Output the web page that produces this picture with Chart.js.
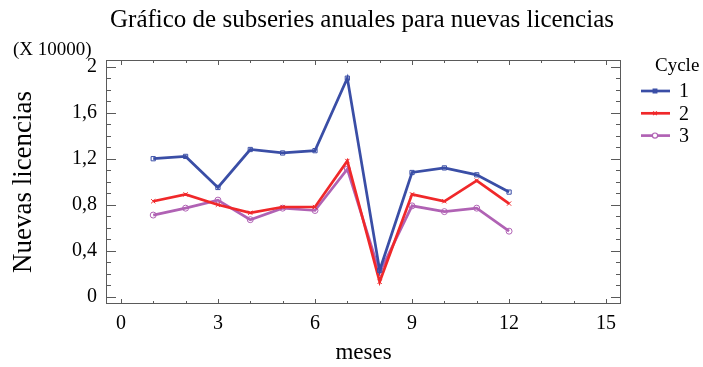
<!DOCTYPE html>
<html>
<head>
<meta charset="utf-8">
<script src="https://cdn.jsdelivr.net/npm/chart.js@4/dist/chart.umd.min.js"></script>
<style>
  html, body { margin: 0; padding: 0; background: #fff; }
  #wrap { width: 703px; height: 367px; }
</style>
</head>
<body>
<div id="wrap"><canvas id="c" width="703" height="367"></canvas></div>
<script>
// Monthly new licences (units of 10 000), one series per yearly cycle
const months = [1, 2, 3, 4, 5, 6, 7, 8, 9, 10, 11, 12];
const cycle1 = [1.20, 1.22, 0.95, 1.28, 1.25, 1.27, 1.90, 0.23, 1.08, 1.12, 1.06, 0.91];
const cycle2 = [0.83, 0.89, 0.80, 0.73, 0.78, 0.78, 1.18, 0.13, 0.89, 0.83, 1.01, 0.81];
const cycle3 = [0.71, 0.77, 0.84, 0.67, 0.77, 0.75, 1.11, 0.21, 0.79, 0.74, 0.77, 0.57];
const cycleNames = ['1', '2', '3'];
const xTicks = [0, 3, 6, 9, 12, 15];
const yTicks = [0, 0.4, 0.8, 1.2, 1.6, 2];
const chartTitle = 'Gráfico de subseries anuales para nuevas licencias';

const SERIF = "'Liberation Serif', 'Times New Roman', serif";
const FRAME = '#5a5a5a';

const toPoints = vals => vals.map((v, i) => ({ x: months[i], y: v }));

const styles = [
  { color: '#3a4ea6', point: 'rect' },
  { color: '#f0282a', point: 'crossRot' },
  { color: '#b062b4', point: 'circle' }
];

const datasets = [cycle1, cycle2, cycle3].map((vals, i) => ({
  label: cycleNames[i],
  data: toPoints(vals),
  borderColor: styles[i].color,
  backgroundColor: 'rgba(255,255,255,0)',
  borderWidth: 2.7,
  pointStyle: styles[i].point,
  pointRadius: 3,
  pointBorderWidth: 1,
  pointBorderColor: styles[i].color,
  pointBackgroundColor: 'rgba(255,255,255,0)',
  tension: 0
}));

// Frame with inward tick marks on all four sides, title, unit label and legend
const framePlugin = {
  id: 'frame',
  afterDatasetsDraw(chart) {
    const { ctx, chartArea: a, scales: { x, y } } = chart;
    ctx.save();
    ctx.strokeStyle = FRAME;
    ctx.lineWidth = 1;
    ctx.strokeRect(Math.round(a.left) + 0.5, Math.round(a.top) + 0.5,
                   Math.round(a.right - a.left) - 1, Math.round(a.bottom - a.top) - 1);
    ctx.beginPath();
    for (let v = 0; v <= 15; v++) {
      const px = Math.round(x.getPixelForValue(v)) + 0.5;
      const len = v % 3 === 0 ? 5 : 3;
      ctx.moveTo(px, a.bottom); ctx.lineTo(px, a.bottom - len);
      ctx.moveTo(px, a.top); ctx.lineTo(px, a.top + len);
    }
    for (let i = 0; i <= 20; i++) {
      const py = Math.round(y.getPixelForValue(i / 10)) + 0.5;
      const len = i % 4 === 0 ? 10 : 5;
      ctx.moveTo(a.left, py); ctx.lineTo(a.left + len, py);
      ctx.moveTo(a.right, py); ctx.lineTo(a.right - len, py);
    }
    ctx.stroke();
    ctx.restore();
  },
  afterDraw(chart) {
    const { ctx } = chart;
    ctx.save();
    ctx.fillStyle = '#000';
    ctx.textBaseline = 'middle';

    ctx.font = '25px ' + SERIF;
    ctx.textAlign = 'center';
    ctx.fillText(chartTitle, 362, 20);

    ctx.font = '19px ' + SERIF;
    ctx.textAlign = 'left';
    ctx.fillText('(X 10000)', 13, 50);

    // legend
    ctx.fillText('Cycle', 655, 66);
    chart.data.datasets.forEach((ds, i) => {
      const ly = 91 + i * 22.3;
      ctx.strokeStyle = ds.borderColor;
      ctx.lineWidth = 2.7;
      ctx.beginPath();
      ctx.moveTo(641, ly); ctx.lineTo(670, ly);
      ctx.stroke();
      ctx.lineWidth = 1.2;
      ctx.fillStyle = i === 0 ? ds.borderColor : '#ffffff';
      Chart.helpers.drawPoint(ctx, { pointStyle: ds.pointStyle, radius: 2.6, borderWidth: 1.2 }, 655, ly);
      ctx.fillStyle = '#000';
      ctx.font = '20px ' + SERIF;
      ctx.fillText(ds.label, 679, ly + 1);
    });
    ctx.restore();
  }
};

new Chart(document.getElementById('c'), {
  type: 'line',
  data: { datasets },
  options: {
    responsive: false,
    devicePixelRatio: 1,
    animation: false,
    layout: { padding: { left: 0, right: 82, top: 60, bottom: 0 } },
    plugins: {
      legend: { display: false },
      tooltip: { enabled: false },
      title: { display: false }
    },
    scales: {
      x: {
        type: 'linear',
        min: -0.46,
        max: 15.46,
        grid: { display: false, drawTicks: false },
        border: { display: false },
        afterBuildTicks: s => { s.ticks = xTicks.map(v => ({ value: v })); },
        afterFit: s => { s.height = 63; },
        ticks: {
          color: '#000',
          padding: 8,
          maxRotation: 0,
          font: { family: SERIF, size: 20 },
          callback: v => String(v)
        },
        title: {
          display: true,
          text: 'meses',
          color: '#000',
          font: { family: SERIF, size: 23, lineHeight: 1.2 },
          padding: { top: 1, bottom: 0 }
        }
      },
      y: {
        type: 'linear',
        min: -0.063,
        max: 2.058,
        grid: { display: false, drawTicks: false },
        border: { display: false },
        afterBuildTicks: s => { s.ticks = yTicks.map(v => ({ value: v })); },
        afterFit: s => { s.width = 106; },
        ticks: {
          color: '#000',
          padding: 9,
          font: { family: SERIF, size: 20 },
          callback: v => String(v).replace('.', ',')
        },
        title: {
          display: true,
          text: 'Nuevas licencias',
          color: '#000',
          font: { family: SERIF, size: 27, lineHeight: 1.2 },
          padding: { top: 8, bottom: 0 }
        }
      }
    }
  },
  plugins: [framePlugin]
});
</script>
</body>
</html>
